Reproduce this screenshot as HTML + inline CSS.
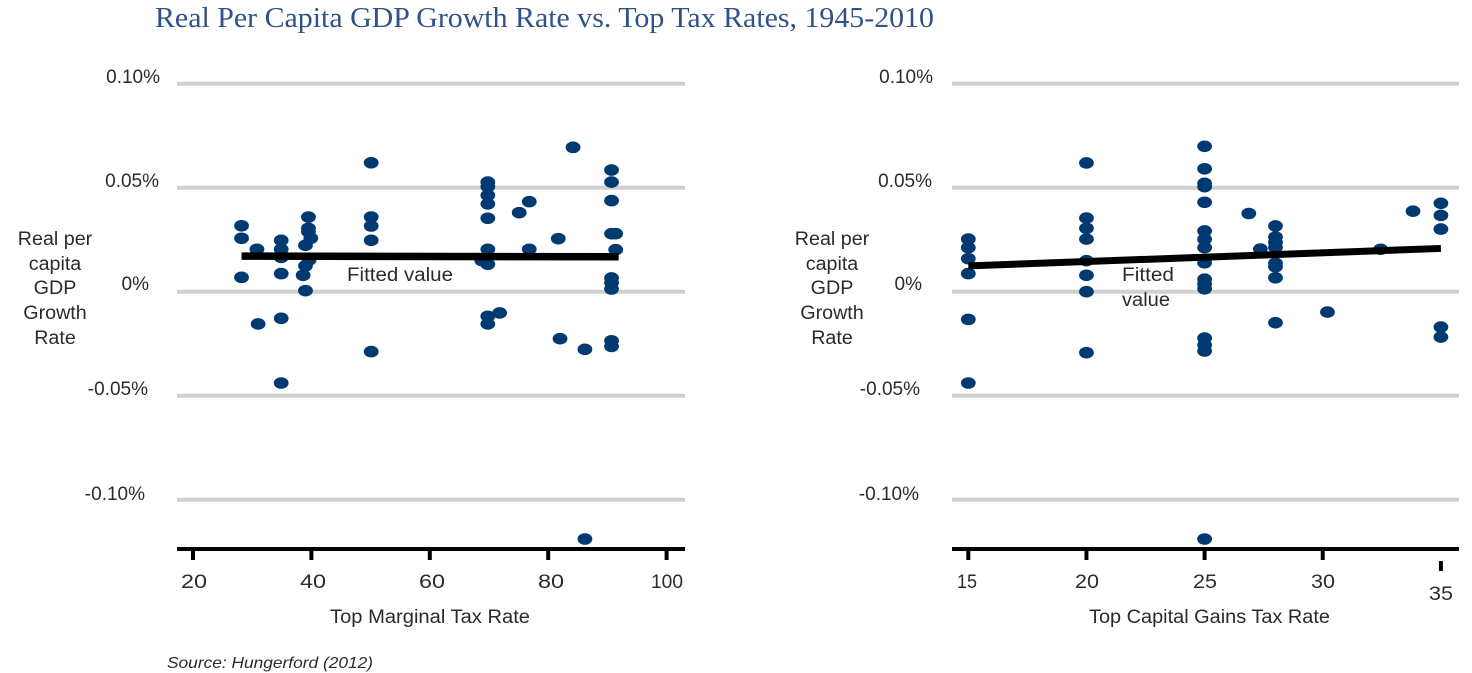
<!DOCTYPE html>
<html lang="en">
<head>
<meta charset="utf-8">
<title>Real Per Capita GDP Growth Rate vs. Top Tax Rates, 1945-2010</title>
<style>
html,body{margin:0;padding:0;background:#fff;width:1472px;height:673px;overflow:hidden}
svg{display:block}
text{font-family:"Liberation Sans",sans-serif;font-size:19px;fill:#2b2b2b;font-weight:normal}
.t{text-anchor:middle}
.e{text-anchor:end}
.yt text{font-size:19.7px}
</style>
</head>
<body>
<svg id="chart" width="1472" height="673" viewBox="0 0 1472 673" xmlns="http://www.w3.org/2000/svg">
<rect width="1472" height="673" fill="#fff"/>
<g id="left-grid"></g><g id="right-grid"></g>
<g id="left-dots"></g><g id="right-dots"></g>
<g id="left-fit"></g><g id="right-fit"></g>
<g id="left-axis"></g><g id="right-axis"></g>

<text x="155" y="27" textLength="779" lengthAdjust="spacingAndGlyphs" style="font-family:'Liberation Serif',serif;font-size:29px;fill:#2f5288">Real Per Capita GDP Growth Rate vs. Top Tax Rates, 1945-2010</text>

<g>
<text class="e" x="160" y="83">0.10%</text>
<text class="e" x="159" y="187">0.05%</text>
<text class="e" x="149" y="290">0%</text>
<text class="e" x="148" y="395">-0.05%</text>
<text class="e" x="145" y="500">-0.10%</text>
</g>
<g>
<text class="e" x="933" y="83">0.10%</text>
<text class="e" x="932" y="187">0.05%</text>
<text class="e" x="922" y="290">0%</text>
<text class="e" x="920" y="395">-0.05%</text>
<text class="e" x="919" y="500">-0.10%</text>
</g>
<g class="yt">
<text class="t" x="55" y="245">Real per</text>
<text class="t" x="55" y="270">capita</text>
<text class="t" x="55" y="294">GDP</text>
<text class="t" x="55" y="319">Growth</text>
<text class="t" x="55" y="344">Rate</text>
</g>
<g class="yt">
<text class="t" x="832" y="245">Real per</text>
<text class="t" x="832" y="270">capita</text>
<text class="t" x="832" y="294">GDP</text>
<text class="t" x="832" y="319">Growth</text>
<text class="t" x="832" y="344">Rate</text>
</g>
<g>
<text x="181" y="588" textLength="26" lengthAdjust="spacingAndGlyphs">20</text>
<text x="300" y="588" textLength="26" lengthAdjust="spacingAndGlyphs">40</text>
<text x="419" y="588" textLength="26" lengthAdjust="spacingAndGlyphs">60</text>
<text x="538" y="588" textLength="26" lengthAdjust="spacingAndGlyphs">80</text>
<text x="651" y="588" textLength="32" lengthAdjust="spacingAndGlyphs">100</text>
</g>
<g>
<text x="957" y="588" textLength="20" lengthAdjust="spacingAndGlyphs">15</text>
<text x="1075" y="588" textLength="24" lengthAdjust="spacingAndGlyphs">20</text>
<text x="1193" y="588" textLength="24" lengthAdjust="spacingAndGlyphs">25</text>
<text x="1311" y="588" textLength="24" lengthAdjust="spacingAndGlyphs">30</text>
<text x="1429" y="600" textLength="24" lengthAdjust="spacingAndGlyphs">35</text>
</g>
<text x="330" y="623" textLength="200" lengthAdjust="spacingAndGlyphs">Top Marginal Tax Rate</text>
<text x="1089" y="623" textLength="241" lengthAdjust="spacingAndGlyphs">Top Capital Gains Tax Rate</text>
<text x="347" y="281" textLength="106" lengthAdjust="spacingAndGlyphs">Fitted value</text>
<text x="1122" y="281" textLength="52" lengthAdjust="spacingAndGlyphs">Fitted</text>
<text x="1122" y="306" textLength="48" lengthAdjust="spacingAndGlyphs">value</text>
<text x="167" y="668" textLength="206" lengthAdjust="spacingAndGlyphs" style="font-size:16px;font-style:italic">Source: Hungerford (2012)</text>
</svg>

<script>
var yTickValues = [0.10, 0.05, 0, -0.05, -0.10];
var leftXTicks = [20, 40, 60, 80, 100];
var rightXTicks = [15, 20, 25, 30, 35];

var leftRates = [28.2,28.2,28.2,30.8,31,34.9,34.9,34.9,34.9,34.9,34.9,39.5,39.5,39.5,39.9,39,39.6,39,38.6,39,50.1,50.1,50.1,50.1,50.1,
  69.8,69.8,69.8,69.8,69.8,69.8,68.8,69.8,69.8,69.8,71.8,75.1,76.8,76.8,81.7,82,86.2,84.2,90.7,90.7,90.7,90.7,91.4,91.4,90.7,90.7,90.7,90.7,90.7,86.2];
var leftGrowth = [.0317,.0257,.0069,.0204,-.0155,.0247,.0204,.0165,.0087,-.0128,-.0439,.0359,.0305,.0288,.0257,.0223,.0152,.0124,.0079,.0005,.062,.0359,.0316,.0247,-.0288,
  .0527,.0505,.0463,.0422,.0353,.0204,.0149,.0132,-.0118,-.0155,-.0102,.038,.0433,.0204,.0255,-.0226,-.0277,.0694,.0585,.0527,.0438,.0279,.0279,.0202,.0066,.0043,.0013,-.0236,-.0263,-.1189];

var rightRates = [15,15,15,15,15,15,20,20,20,20,20,20,20,20,25,25,25,25,25,25,25,25,25,25,25,25,25,25,25,25,
  26.87,27.36,28,28,28,28,28,28,28,28,30.2,32.45,33.82,35,35,35,35,35];
var rightGrowth = [.0253,.0212,.0159,.0087,-.0133,-.0439,.0619,.0354,.0305,.0253,.0149,.0079,0,-.0293,.0699,.0591,.0521,.0505,.043,.0292,.0252,.0212,.0139,.006,.0037,.0014,-.0223,-.0256,-.0285,-.1189,
  .0376,.0205,.0316,.0263,.0238,.0213,.0137,.012,.0067,-.0149,-.0098,.0204,.0387,.0425,.0367,.0301,-.017,-.0218];

var leftFitRates = [28.2, 91.9];
var leftFitValues = [.0171, .0168];
var rightFitRates = [15, 35];
var rightFitValues = [.0124, .0208];

var NS = 'http://www.w3.org/2000/svg';
function yScale(v) { return 291.7 - v * 2080; }
function xLeft(v) { return 193 + (v - 20) * 5.92; }
function xRight(v) { return 968.3 + (v - 15) * 23.63; }

function shape(parent, tag, attrs) {
  var el = document.createElementNS(NS, tag);
  for (var k in attrs) el.setAttribute(k, attrs[k]);
  document.getElementById(parent).appendChild(el);
  return el;
}

yTickValues.forEach(function (v) {
  var a = shape('left-grid', 'line', {x1: 177, x2: 685, y1: yScale(v), y2: yScale(v), stroke: '#cfd0cf', 'stroke-width': 4});
  
  
  var b = shape('right-grid', 'line', {x1: 952, x2: 1459, y1: yScale(v), y2: yScale(v), stroke: '#cfd0cf', 'stroke-width': 4});
  
  
});

leftRates.forEach(function (r, i) {
  var d = shape('left-dots', 'ellipse', {cx: xLeft(r), cy: yScale(leftGrowth[i]), rx: 7.4, ry: 5.8, fill: '#003a70'});
  
  
});
rightRates.forEach(function (r, i) {
  var d = shape('right-dots', 'ellipse', {cx: xRight(r), cy: yScale(rightGrowth[i]), rx: 7.4, ry: 5.8, fill: '#003a70'});
  
  
});

var fitL = shape('left-fit', 'line', {x1: xLeft(leftFitRates[0]), x2: xLeft(leftFitRates[1]), y1: yScale(leftFitValues[0]), y2: yScale(leftFitValues[1]), stroke: '#000', 'stroke-width': 7.5});


var fitR = shape('right-fit', 'line', {x1: xRight(rightFitRates[0]), x2: xRight(rightFitRates[1]), y1: yScale(rightFitValues[0]), y2: yScale(rightFitValues[1]), stroke: '#000', 'stroke-width': 7});



var axL = shape('left-axis', 'line', {x1: 177, x2: 685, y1: 549, y2: 549, stroke: '#000', 'stroke-width': 4});


var axR = shape('right-axis', 'line', {x1: 952, x2: 1459, y1: 549, y2: 549, stroke: '#000', 'stroke-width': 4});



leftXTicks.forEach(function (v) {
  var t = shape('left-axis', 'line', {x1: xLeft(v), x2: xLeft(v), y1: 549, y2: 560, stroke: '#000', 'stroke-width': 4});
  
  
});
rightXTicks.forEach(function (v, i) {
  var last = i === rightXTicks.length - 1;
  var t = shape('right-axis', 'line', {x1: xRight(v), x2: xRight(v), y1: last ? 561 : 549, y2: last ? 571 : 560, stroke: '#000', 'stroke-width': 4});
  
  
});
</script>
</body>
</html>
